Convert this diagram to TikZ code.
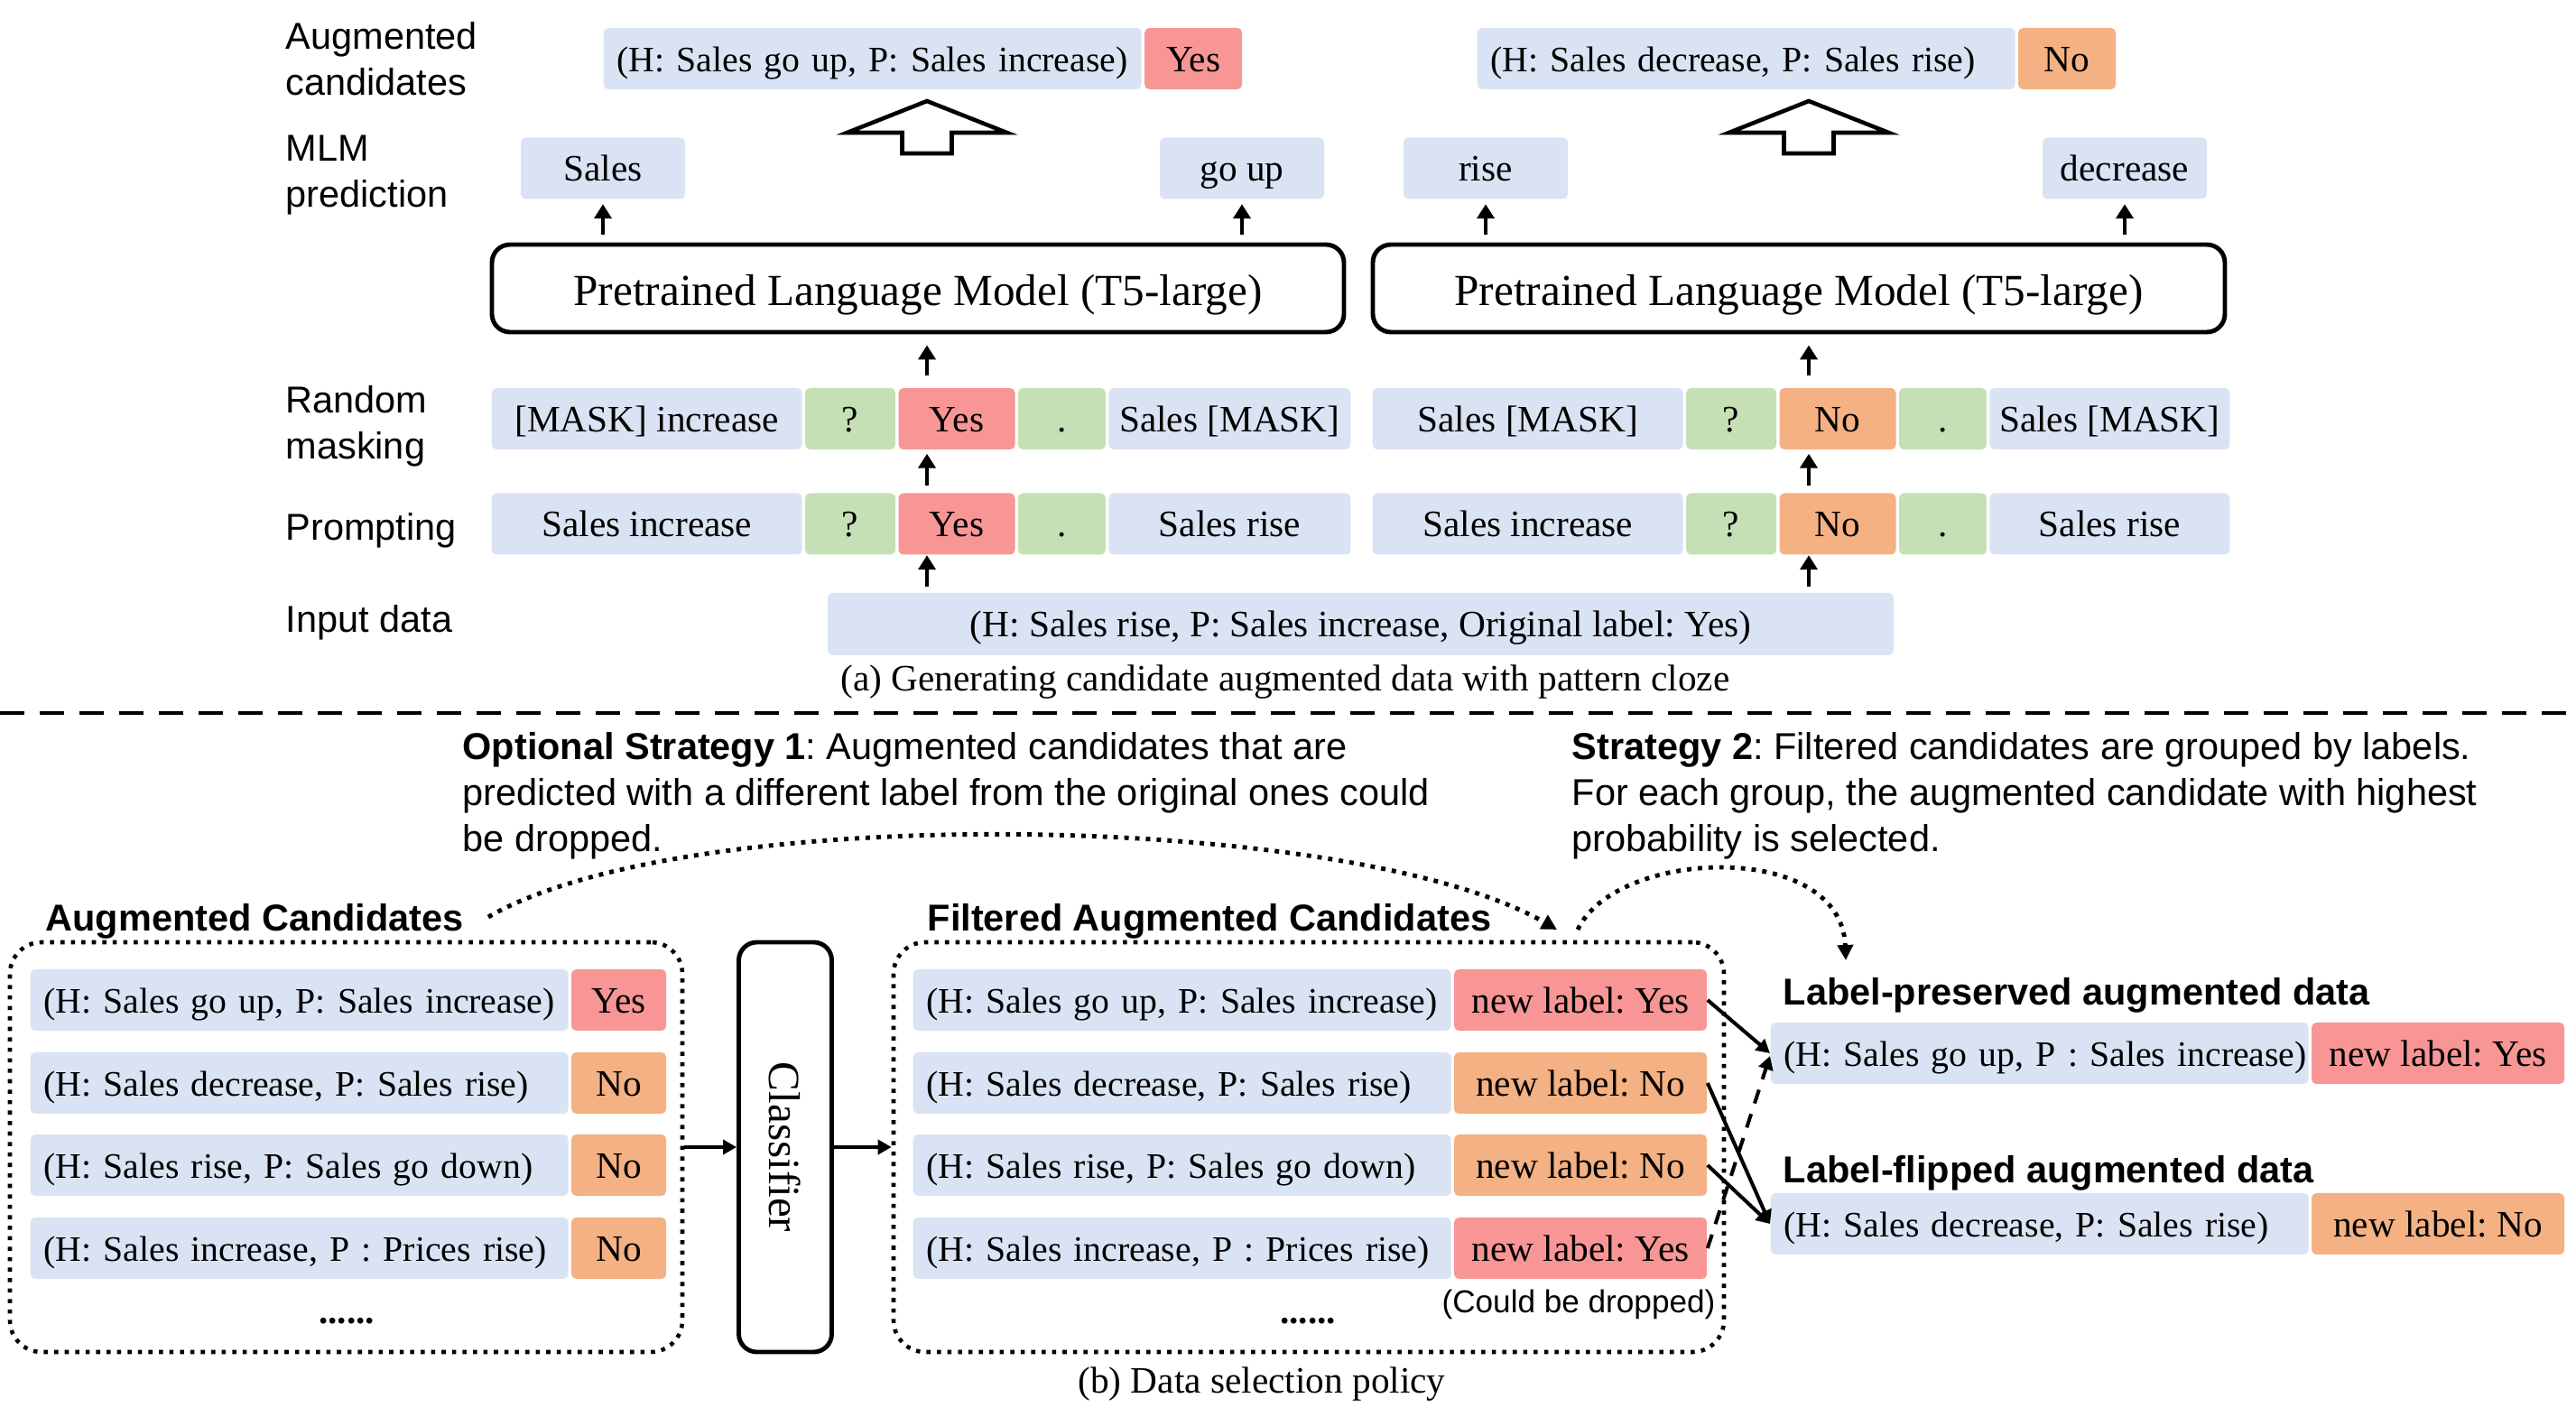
\documentclass[tikz,border=0pt]{standalone}
\usepackage{fontspec}
\setmainfont{Liberation Serif}
\newfontfamily\sansfam{Liberation Sans}
\usepackage{tikz}
\usetikzlibrary{positioning,arrows.meta,calc}
\frenchspacing

\definecolor{cellblue}{HTML}{DAE3F3}
\definecolor{cellred}{HTML}{F89696}
\definecolor{cellorange}{HTML}{F4B183}
\definecolor{cellgreen}{HTML}{C5E0B4}

\begin{document}
\begin{tikzpicture}[font=\fontsize{11.75}{14}\selectfont,
    cell/.style={rounded corners=1.5pt, inner sep=0pt, minimum height=0.68cm, text height=10pt, text depth=2pt},
    bluecell/.style={cell, fill=cellblue},
    redcell/.style={cell, fill=cellred},
    orangecell/.style={cell, fill=cellorange},
    greencell/.style={cell, fill=cellgreen},
    pairbox/.style={bluecell, anchor=west, text width=5.66cm, inner xsep=0.15cm, align=left,
      font=\fontsize{11.3}{14}\selectfont, execute at begin node={\hbox\bgroup}, execute at end node={\egroup}},
    sidelabel/.style={font=\sansfam\fontsize{11.8}{14.5}\selectfont, align=left, anchor=west, inner sep=0pt},
    heading/.style={font=\sansfam\bfseries\fontsize{11.8}{14.5}\selectfont, anchor=west, inner sep=0pt},
    plm/.style={draw, line width=1.4pt, rounded corners=0.2cm, minimum width=9.44cm, minimum height=0.97cm, text height=13pt, text depth=2pt, font=\fontsize{14}{16}\selectfont},
    classbox/.style={draw, line width=1.4pt, rounded corners=0.2cm, rotate=-90, minimum width=4.54cm, minimum height=1.03cm, font=\fontsize{14}{16}\selectfont},
    flow/.style={-{Triangle[width=0.19cm,length=0.16cm]}, line width=1.3pt},
    link/.style={-{Triangle[width=0.16cm,length=0.15cm]}, line width=1.15pt},
    hollow/.style={line width=1.3pt, line join=miter},
    dotbox/.style={draw, dotted, line width=1.3pt, rounded corners=0.35cm},
    dotarrow/.style={dotted, line width=1.4pt, -{Triangle[width=0.17cm,length=0.17cm]}},
  ]
    \useasboundingbox (0,0) rectangle (28.54,-15.80);

    % Row labels
    \node[sidelabel] (lab-aug) at (3.16,-0.655) {Augmented\\candidates};
    \node[sidelabel] (lab-mlm) at (3.16,-1.94) {MLM\\prediction};
    \node[sidelabel] (lab-mask) at (3.16,-4.725) {Random\\masking};
    \node[sidelabel] (lab-prompt) at (3.16,-5.875) {Prompting};
    \node[sidelabel] (lab-input) at (3.16,-6.895) {Input data};

    % Augmented candidates
    \node[pairbox] (aug-l) at (6.68,-0.65) {(H: Sales go up, P: Sales increase)};
    \node[redcell, minimum width=1.08cm, right=0.02cm of aug-l] (aug-l-label) {Yes};
    \node[pairbox] (aug-r) at (16.36,-0.65) {(H: Sales decrease, P: Sales rise)};
    \node[orangecell, minimum width=1.08cm, right=0.02cm of aug-r] (aug-r-label) {No};

    % MLM prediction
    \node[bluecell, minimum width=1.82cm] (mlm-sales) at (6.68,-1.865) {Sales};
    \node[bluecell, minimum width=1.82cm] (mlm-goup) at (13.76,-1.865) {go up};
    \node[bluecell, minimum width=1.82cm] (mlm-rise) at (16.46,-1.865) {rise};
    \node[bluecell, minimum width=1.82cm] (mlm-decrease) at (23.54,-1.865) {decrease};

    % Language models
    \node[plm] (plm-l) at (10.17,-3.195) {Pretrained Language Model (T5-large)};
    \node[plm] (plm-r) at (19.93,-3.195) {Pretrained Language Model (T5-large)};

    % Random masking
    \node[bluecell, minimum width=3.44cm, anchor=west] (mask-l1) at (5.44,-4.64) {[MASK] increase};
    \node[greencell, minimum width=1.00cm, right=0.02cm of mask-l1] (mask-l2) {?};
    \node[redcell, minimum width=1.29cm, right=0.02cm of mask-l2] (mask-l3) {Yes};
    \node[greencell, minimum width=0.97cm, right=0.02cm of mask-l3] (mask-l4) {.};
    \node[bluecell, minimum width=2.68cm, right=0.02cm of mask-l4] (mask-l5) {Sales [MASK]};
    \node[bluecell, minimum width=3.44cm, anchor=west] (mask-r1) at (15.20,-4.64) {Sales [MASK]};
    \node[greencell, minimum width=1.00cm, right=0.02cm of mask-r1] (mask-r2) {?};
    \node[orangecell, minimum width=1.29cm, right=0.02cm of mask-r2] (mask-r3) {No};
    \node[greencell, minimum width=0.97cm, right=0.02cm of mask-r3] (mask-r4) {.};
    \node[bluecell, minimum width=2.66cm, right=0.02cm of mask-r4] (mask-r5) {Sales [MASK]};

    % Prompting
    \node[bluecell, minimum width=3.44cm, anchor=west] (prompt-l1) at (5.44,-5.805) {Sales increase};
    \node[greencell, minimum width=1.00cm, right=0.02cm of prompt-l1] (prompt-l2) {?};
    \node[redcell, minimum width=1.29cm, right=0.02cm of prompt-l2] (prompt-l3) {Yes};
    \node[greencell, minimum width=0.97cm, right=0.02cm of prompt-l3] (prompt-l4) {.};
    \node[bluecell, minimum width=2.68cm, right=0.02cm of prompt-l4] (prompt-l5) {Sales rise};
    \node[bluecell, minimum width=3.44cm, anchor=west] (prompt-r1) at (15.20,-5.805) {Sales increase};
    \node[greencell, minimum width=1.00cm, right=0.02cm of prompt-r1] (prompt-r2) {?};
    \node[orangecell, minimum width=1.29cm, right=0.02cm of prompt-r2] (prompt-r3) {No};
    \node[greencell, minimum width=0.97cm, right=0.02cm of prompt-r3] (prompt-r4) {.};
    \node[bluecell, minimum width=2.66cm, right=0.02cm of prompt-r4] (prompt-r5) {Sales rise};

    % Input data
    \node[bluecell, minimum width=11.81cm, minimum height=0.69cm] (input) at (15.075,-6.915) {(H: Sales rise, P: Sales increase, Original label: Yes)};
    \node (caption-a) at (14.24,-7.56) {(a) Generating candidate augmented data with pattern cloze};

    % Arrows (a)
    \coordinate (mid-l) at (10.27,0);
    \coordinate (mid-r) at (20.04,0);
    \draw[flow, shorten <=0.09cm, shorten >=0.05cm] (plm-l.north -| mlm-sales) -- (mlm-sales.south);
    \draw[flow, shorten <=0.09cm, shorten >=0.05cm] (plm-l.north -| mlm-goup) -- (mlm-goup.south);
    \draw[flow, shorten <=0.09cm, shorten >=0.05cm] (plm-r.north -| mlm-rise) -- (mlm-rise.south);
    \draw[flow, shorten <=0.09cm, shorten >=0.05cm] (plm-r.north -| mlm-decrease) -- (mlm-decrease.south);
    \draw[flow, shorten <=0.13cm, shorten >=0.12cm] (mask-l3.north -| mid-l) -- (plm-l.south -| mid-l);
    \draw[flow, shorten <=0.13cm, shorten >=0.12cm] (mask-r3.north -| mid-r) -- (plm-r.south -| mid-r);
    \draw[flow, shorten <=0.08cm, shorten >=0.04cm] (prompt-l3.north -| mid-l) -- (mask-l3.south -| mid-l);
    \draw[flow, shorten <=0.08cm, shorten >=0.04cm] (prompt-r3.north -| mid-r) -- (mask-r3.south -| mid-r);
    \draw[flow, shorten <=0.06cm] (input.north -| mid-l) -- (prompt-l3.south -| mid-l);
    \draw[flow, shorten <=0.06cm] (input.north -| mid-r) -- (prompt-r3.south -| mid-r);

    % Hollow arrows
    \coordinate (hollow-l) at (10.27,-1.70);
    \coordinate (hollow-r) at (20.04,-1.70);
    \draw[hollow] (hollow-l) ++(0.275,0) -- ++(0,0.23) -- ++(0.61,0) -- ++(-0.885,0.35) -- ++(-0.885,-0.35) -- ++(0.61,0) -- ++(0,-0.23) -- cycle;
    \draw[hollow] (hollow-r) ++(0.275,0) -- ++(0,0.23) -- ++(0.61,0) -- ++(-0.885,0.35) -- ++(-0.885,-0.35) -- ++(0.61,0) -- ++(0,-0.23) -- cycle;

    % Separator
    \draw[line width=1.2pt, dash pattern=on 0.27cm off 0.17cm] (0,-7.90) -- (28.54,-7.90);

    % Strategies
    \node[sidelabel] (strategy-1) at (5.12,-8.82) {\textbf{Optional Strategy 1}: Augmented candidates that are\\predicted with a different label from the original ones could\\be dropped.};
    \node[sidelabel] (strategy-2) at (17.41,-8.82) {\textbf{Strategy 2}: Filtered candidates are grouped by labels.\\For each group, the augmented candidate with highest\\probability is selected.};

    % Augmented candidates (b)
    \node[heading] (cand-head) at (0.50,-10.21) {Augmented Candidates};
    \node[dotbox, minimum width=7.45cm, minimum height=4.54cm] (cand-box) at (3.835,-12.71) {};
    \node[pairbox] (cand-1) at (0.33,-11.08) {(H: Sales go up, P: Sales increase)};
    \node[redcell, minimum width=1.05cm, right=0.02cm of cand-1] (cand-1-label) {Yes};
    \node[pairbox] (cand-2) at (0.33,-12.00) {(H: Sales decrease, P: Sales rise)};
    \node[orangecell, minimum width=1.05cm, right=0.02cm of cand-2] (cand-2-label) {No};
    \node[pairbox] (cand-3) at (0.33,-12.91) {(H: Sales rise, P: Sales go down)};
    \node[orangecell, minimum width=1.05cm, right=0.02cm of cand-3] (cand-3-label) {No};
    \node[pairbox] (cand-4) at (0.33,-13.83) {(H: Sales increase, P : Prices rise)};
    \node[orangecell, minimum width=1.05cm, right=0.02cm of cand-4] (cand-4-label) {No};
    \node (cand-dots) at (3.84,-14.64) {\textbf{......}};

    % Classifier
    \node[classbox] (classifier) at (8.70,-12.71) {Classifier};

    % Filtered augmented candidates
    \node[heading] (filt-head) at (10.27,-10.21) {Filtered Augmented Candidates};
    \node[dotbox, minimum width=9.20cm, minimum height=4.54cm] (filt-box) at (14.50,-12.71) {};
    \node[pairbox] (filt-1) at (10.11,-11.08) {(H: Sales go up, P: Sales increase)};
    \node[redcell, minimum width=2.80cm, right=0.02cm of filt-1] (filt-1-label) {new label: Yes};
    \node[pairbox] (filt-2) at (10.11,-12.00) {(H: Sales decrease, P: Sales rise)};
    \node[orangecell, minimum width=2.80cm, right=0.02cm of filt-2] (filt-2-label) {new label: No};
    \node[pairbox] (filt-3) at (10.11,-12.91) {(H: Sales rise, P: Sales go down)};
    \node[orangecell, minimum width=2.80cm, right=0.02cm of filt-3] (filt-3-label) {new label: No};
    \node[pairbox] (filt-4) at (10.11,-13.83) {(H: Sales increase, P : Prices rise)};
    \node[redcell, minimum width=2.80cm, right=0.02cm of filt-4] (filt-4-label) {new label: Yes};
    \node[font=\sansfam\fontsize{10}{12}\selectfont] (dropped) at (17.49,-14.45) {(Could be dropped)};
    \node (filt-dots) at (14.49,-14.64) {\textbf{......}};
    \node (caption-b) at (13.98,-15.34) {(b) Data selection policy};

    % Selected data
    \node[heading] (lp-head) at (19.75,-11.03) {Label-preserved augmented data};
    \node[pairbox] (lp) at (19.61,-11.67) {(H: Sales go up, P : Sales increase)};
    \node[redcell, minimum width=2.80cm, right=0.02cm of lp] (lp-label) {new label: Yes};
    \node[heading] (lf-head) at (19.75,-13.00) {Label-flipped augmented data};
    \node[pairbox] (lf) at (19.61,-13.56) {(H: Sales decrease, P: Sales rise)};
    \node[orangecell, minimum width=2.80cm, right=0.02cm of lf] (lf-label) {new label: No};

    % Arrows (b)
    \draw[link] (cand-box) -- (classifier);
    \draw[link] (classifier) -- (filt-box);
    \draw[link] (filt-1-label.east) -- (lp.west);
    \draw[link] (filt-2-label.east) -- (lf.west);
    \draw[link] (filt-3-label.east) -- (lf.west);
    \draw[link, dash pattern=on 4.5pt off 3.5pt] (filt-4-label.east) -- ([yshift=-0.03cm]lp.west);

    \coordinate (s1-from) at (5.41,-10.16);
    \coordinate (s1-to) at (17.25,-10.30);
    \coordinate (s2-from) at (17.48,-10.30);
    \coordinate (s2-to) at (20.45,-10.64);
    \draw[dotarrow] (s1-from) .. controls +(2.25,1.3) and +(-2.25,1.3) .. (s1-to);
    \draw[dotarrow] (s2-from) .. controls +(0.42,0.9) and +(-0.05,1.34) .. (s2-to);
  \end{tikzpicture}
\end{document}
